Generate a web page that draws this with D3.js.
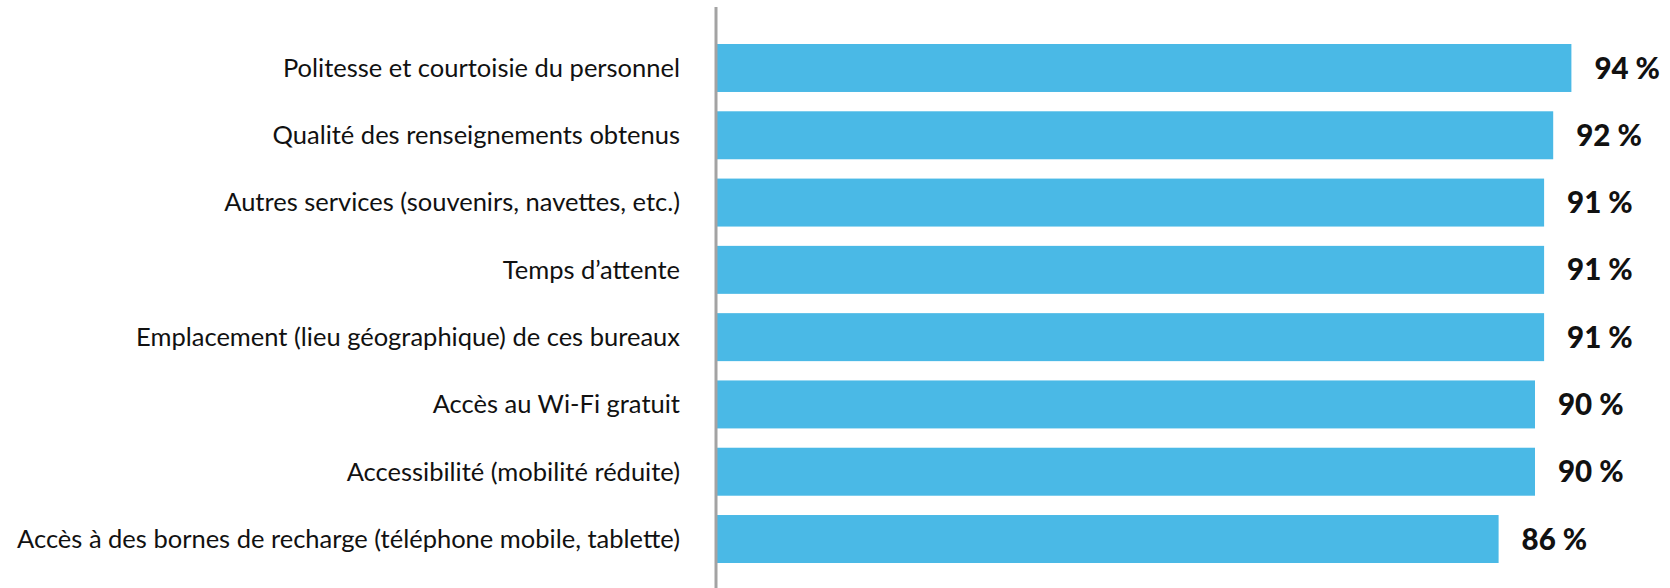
<!DOCTYPE html>
<html>
<head>
<meta charset="utf-8">
<script src="https://cdn.jsdelivr.net/npm/d3@7"></script>
<style>
  html, body { margin: 0; padding: 0; background: #fff; }
  svg { display: block; }
</style>
</head>
<body>
<svg id="chart" width="1670" height="588"></svg>
<script>
// Satisfaction items, ordered from highest to lowest share
const categories = [
  "Politesse et courtoisie du personnel",
  "Qualité des renseignements obtenus",
  "Autres services (souvenirs, navettes, etc.)",
  "Temps d’attente",
  "Emplacement (lieu géographique) de ces bureaux",
  "Accès au Wi-Fi gratuit",
  "Accessibilité (mobilité réduite)",
  "Accès à des bornes de recharge (téléphone mobile, tablette)"
];
const values = [94, 92, 91, 91, 91, 90, 90, 86];

const width = 1670, height = 588;
const axisX = 716;

const svg = d3.select("#chart");

const x = d3.scaleLinear().domain([0, 100]).range([axisX, axisX + 910]);
const y = d3.scaleBand()
  .domain(categories)
  .range([44, 563])
  .paddingInner(0.287)
  .paddingOuter(0);

// Bars
svg.append("g").selectAll("rect")
  .data(values)
  .join("rect")
  .attr("x", x(0))
  .attr("y", (d, i) => y(categories[i]))
  .attr("width", d => x(d) - x(0))
  .attr("height", y.bandwidth())
  .attr("fill", "#4ab9e6");

// Category labels
svg.append("g").selectAll("text")
  .data(categories)
  .join("text")
  .attr("x", axisX - 36)
  .attr("y", d => y(d) + y.bandwidth() / 2)
  .attr("dy", "0.35em")
  .attr("text-anchor", "end")
  .attr("font-family", "Lato, 'Noto Sans', sans-serif")
  .attr("font-size", 25.5)
  .attr("fill", "#111")
  .text(d => d);

// Value labels
svg.append("g").selectAll("text")
  .data(values)
  .join("text")
  .attr("x", d => x(d) + 23)
  .attr("y", (d, i) => y(categories[i]) + y.bandwidth() / 2)
  .attr("dy", "0.36em")
  .attr("font-family", "Lato, 'Noto Sans', sans-serif")
  .attr("font-weight", 900)
  .attr("font-size", 29.5)
  .attr("fill", "#111")
  .text(d => d + " %");

// Vertical category axis line
svg.append("line")
  .attr("x1", axisX).attr("x2", axisX)
  .attr("y1", 7).attr("y2", height)
  .attr("stroke", "#a3a3a3")
  .attr("stroke-width", 3);
</script>
</body>
</html>
